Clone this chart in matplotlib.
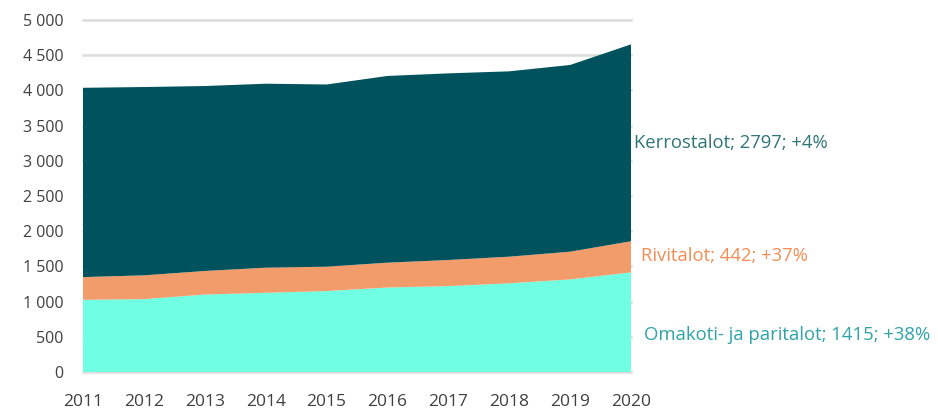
import numpy as np
import matplotlib
matplotlib.use("Agg")
import matplotlib.pyplot as plt
from matplotlib.ticker import FuncFormatter

years = [2011, 2012, 2013, 2014, 2015, 2016, 2017, 2018, 2019, 2020]
omakoti = [1025, 1035, 1100, 1125, 1150, 1200, 1220, 1260, 1315, 1415]
rivitalot = [323, 338, 335, 357, 346, 353, 371, 378, 394, 442]
kerrostalot = [2689, 2675, 2627, 2613, 2588, 2652, 2651, 2633, 2652, 2797]

labels = ["Omakoti- ja paritalot; 1415; +38%", "Rivitalot; 442; +37%", "Kerrostalot; 2797; +4%"]
colors = ["#70FFE3", "#F39C6B", "#00535C"]
label_colors = ["#2FA3A6", "#F28C54", "#2E7479"]

plt.rcParams['font.family'] = ['Open Sans', 'DejaVu Sans']

fig = plt.figure(figsize=(9.38, 4.09), dpi=100)
ax = fig.add_axes([83 / 938, 1 - 372 / 409, (631 - 83) / 938, (372 - 20) / 409])

ax.stackplot(years, omakoti, rivitalot, kerrostalot, colors=colors, linewidth=0, zorder=2)

ax.set_xlim(2011, 2020)
ax.set_ylim(0, 5000)
ax.set_yticks(np.arange(0, 5001, 500))
ax.set_xticks(years)
ax.yaxis.set_major_formatter(FuncFormatter(lambda v, p: "{:,.0f}".format(v).replace(",", " ")))
for gl in np.arange(0, 5001, 500):
	ax.axhline(gl, color='#DCDCDC', linewidth=1.8, zorder=0, clip_on=False)
for s in ax.spines.values():
	s.set_visible(False)
ax.tick_params(length=0, labelsize=11.5, labelcolor='#404040')
ax.tick_params(axis='x', pad=16, labelsize=12.5)
ax.tick_params(axis='y', pad=14)

# series labels on the right
label_y = [530, 1650, 3250]
label_dx = [9, 7, 2]
for lab, col, y, dx in zip(labels, label_colors, label_y, label_dx):
	ax.annotate(lab, xy=(2020, y), xytext=(dx, 0), textcoords='offset points',
		color=col, fontsize=13.3, va='center', ha='left', annotation_clip=False)

plt.savefig("out.png", dpi=100)
plt.close()
